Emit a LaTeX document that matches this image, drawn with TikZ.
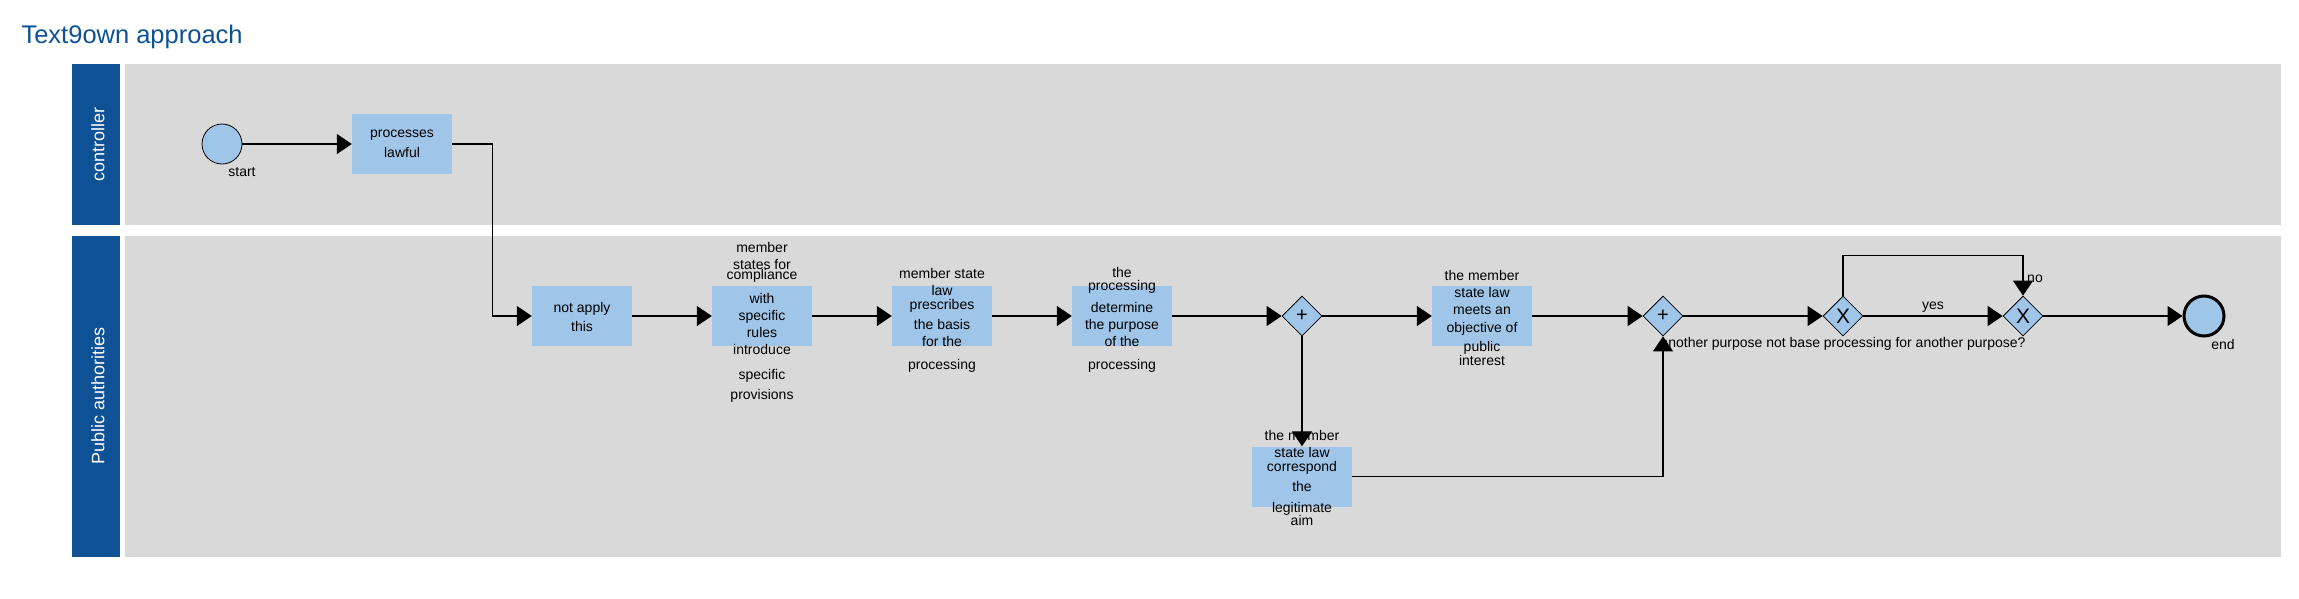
\documentclass[tikz,border=0pt]{standalone}
\usepackage{fontspec}
\setmainfont{Liberation Sans}
\usetikzlibrary{arrows.meta,shapes.geometric}
\definecolor{lanehead}{RGB}{14,82,149}
\definecolor{lanebody}{RGB}{217,217,217}
\definecolor{taskfill}{RGB}{159,197,232}
\begin{document}
\begin{tikzpicture}[x=1pt,y=-1pt,
    task/.style={fill=taskfill,minimum width=100pt,minimum height=60pt,inner sep=0pt},
    tasktext/.style={align=center,font=\fontsize{14}{17}\selectfont},
    lanetext/.style={rotate=90,text=white,font=\fontsize{18}{22}\selectfont},
    gate/.style={diamond,draw,fill=taskfill,minimum width=40pt,minimum height=40pt,inner sep=0pt,line width=0.8pt},
    event/.style={circle,draw,fill=taskfill,minimum size=40pt,inner sep=0pt},
    flow/.style={-{Triangle[length=15pt,width=20pt]},line width=1.2pt}]
    \useasboundingbox (0,0) rectangle (2299,598);
    \node[anchor=base west,text=lanehead,font=\fontsize{25.5}{30}\selectfont] (title) at (18,43) {Text9own approach};
    \fill[lanehead] (72,64) rectangle (120,225);
    \fill[lanebody] (125,64) rectangle (2281,225);
    \fill[lanehead] (72,236) rectangle (120,557);
    \fill[lanebody] (125,236) rectangle (2281,557);
    \node[lanetext] (controller) at (98,144.5) {controller};
    \node[lanetext] (authorities) at (98,396) {Public authorities};
    \node[event,line width=0.8pt] (start) at (222,144) {};
    \node[tasktext,anchor=center] (start-l) at (242,172) {start};
    \node[task] (lawful) at (402,144) {};
    \node[task] (apply) at (582,316) {};
    \node[task] (rules) at (762,316) {};
    \node[task] (basis) at (942,316) {};
    \node[task] (purpose) at (1122,316) {};
    \node[gate,font=\fontsize{20}{20}\selectfont] (and1) at (1302,316) {+};
    \node[task] (interest) at (1482,316) {};
    \node[task] (aim) at (1302,476.5) {};
    \node[gate,font=\fontsize{20}{20}\selectfont] (and2) at (1663,316) {+};
    \node[gate,font=\fontsize{21}{21}\selectfont] (xor1) at (1843,316) {X};
    \node[gate,font=\fontsize{21}{21}\selectfont] (xor2) at (2023,316) {X};
    \node[event,line width=3pt] (end) at (2204,316) {};
    \node[tasktext] (end-l) at (2223,344) {end};
    \node[tasktext] (lawful-t) at (402,144) {processes\\[3pt]lawful};
    \node[tasktext] (apply-t) at (582,316.5) {not apply\\[2pt]this};
    \node[tasktext] (rules-t) at (762,322.5) {member\\states for\\[-7pt]compliance\\[7pt]with\\specific\\rules\\introduce\\[8pt]specific\\[3pt]provisions};
    \node[tasktext] (basis-t) at (942,320.5) {member state\\law\\[-3pt]prescribes\\[3pt]the basis\\for the\\[6pt]processing};
    \node[tasktext] (purpose-t) at (1122,320) {the\\[-4pt]processing\\[5pt]determine\\the purpose\\of the\\[6pt]processing};
    \node[tasktext] (interest-t) at (1482,317.5) {the member\\state law\\meets an\\[1pt]objective of\\[2pt]public\\[-3pt]interest};
    \node[tasktext] (aim-t) at (1302,477.5) {the member\\state law\\[-3pt]correspond\\[3pt]the\\[4pt]legitimate\\[-4pt]aim};
    \node[tasktext] (question) at (1843,344) {another purpose not base processing for another purpose?};
    \node[tasktext] (no) at (2035,279) {no};
    \draw[flow] (start) -- (lawful);
    \draw[flow] (lawful.east) -- ++(40,0) |- (apply.west);
    \foreach \a/\b in {apply/rules,rules/basis,basis/purpose,purpose/and1,and1/interest,interest/and2,and2/xor1,xor2/end}
        {\draw[flow] (\a) -- (\b);
        }
    \draw[flow] (xor1) -- node[tasktext,above] (yes) {yes} (xor2);
    \draw[flow] (xor1.north) -- ++(0,-40) -| (xor2.north);
    \draw[flow] (and1.south) -- (aim.north);
    \draw[flow] (aim.east) -| (and2.south);
\end{tikzpicture}
\end{document}
